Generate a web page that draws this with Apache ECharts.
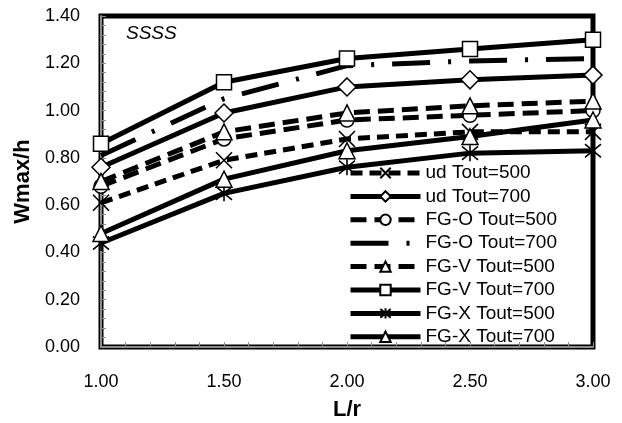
<!DOCTYPE html>
<html>
<head>
<meta charset="utf-8">
<script src="https://cdn.jsdelivr.net/npm/echarts@6/dist/echarts.min.js"></script>
<style>
  html, body { margin: 0; padding: 0; background: #fff; }
  #chart { width: 622px; height: 423px; }
</style>
</head>
<body>
<div id="chart"></div>
<script>
// L/r ratios on the horizontal axis
const ratios = [1.0, 1.5, 2.0, 2.5, 3.0];

// Wmax/h for each configuration and outlet temperature
const ud500  = [0.61, 0.79, 0.88, 0.91, 0.91];
const ud700  = [0.76, 0.99, 1.10, 1.13, 1.15];
const fgo500 = [0.68, 0.88, 0.96, 0.98, 1.00];
const fgo700 = [0.81, 1.05, 1.19, 1.21, 1.22];
const fgv500 = [0.70, 0.91, 0.99, 1.02, 1.04];
const fgv700 = [0.86, 1.12, 1.22, 1.26, 1.30];
const fgx500 = [0.44, 0.65, 0.76, 0.82, 0.83];
const fgx700 = [0.48, 0.71, 0.83, 0.89, 0.96];

const seriesNames = [
  'ud Tout=500', 'ud Tout=700', 'FG-O Tout=500', 'FG-O Tout=700',
  'FG-V Tout=500', 'FG-V Tout=700', 'FG-X Tout=500', 'FG-X Tout=700'
];

const FONT = '"Liberation Sans", Arial, sans-serif';
const X_MARK = 'path://M0,0L10,10M10,0L0,10';
const STAR_MARK = 'path://M0,0L10,10M10,0L0,10M5,-1L5,11';
const LINE_W = 5;

function pairs(values) {
  return ratios.map((r, i) => [r, values[i]]);
}

function makeSeries(name, values, dash, symbol, size, extra) {
  return Object.assign({
    name: name,
    type: 'line',
    data: pairs(values),
    symbol: symbol,
    symbolSize: size,
    showSymbol: symbol !== 'none',
    lineStyle: { color: '#000', width: LINE_W, type: dash },
    itemStyle: { color: '#fff', borderColor: '#000', borderWidth: 1.5 },
    emphasis: { disabled: true },
    animation: false
  }, extra || {});
}

const strokeOnly = { itemStyle: { color: 'none', borderColor: '#000', borderWidth: 1.6 } };

const series = [
  makeSeries(seriesNames[0], ud500, [12, 7], X_MARK, 16, strokeOnly),
  makeSeries(seriesNames[1], ud700, 'solid', 'diamond', 18),
  makeSeries(seriesNames[2], fgo500, [16, 8], 'circle', 14),
  makeSeries(seriesNames[3], fgo700, [38, 18, 3, 18], 'none', 0),
  makeSeries(seriesNames[4], fgv500, [16, 8], 'triangle', 16),
  makeSeries(seriesNames[5], fgv700, 'solid', 'rect', 15),
  makeSeries(seriesNames[6], fgx500, 'solid', STAR_MARK, 16, strokeOnly),
  makeSeries(seriesNames[7], fgx700, 'solid', 'triangle', 16)
];

// the dash-dot series has no marker, so its legend entry shows only the line
const legendData = seriesNames.map(n =>
  n === 'FG-O Tout=700' ? { name: n, itemStyle: { opacity: 0 } } : { name: n }
);

const chart = echarts.init(document.getElementById('chart'), null, { renderer: 'canvas' });

chart.setOption({
  backgroundColor: '#fff',
  animation: false,
  grid: {
    left: 101, right: 29, top: 16, bottom: 76,
    outerBoundsMode: 'none',
    show: true, borderColor: '#000', borderWidth: 5, backgroundColor: 'transparent'
  },
  xAxis: {
    type: 'value',
    min: 1, max: 3, interval: 0.5,
    name: 'L/r',
    nameLocation: 'middle',
    nameGap: 52,
    nameTextStyle: { fontFamily: FONT, fontSize: 22, fontWeight: 'bold', color: '#000' },
    axisLine: { show: true, lineStyle: { color: '#8c8c8c', width: 2 } },
    axisTick: { show: true, inside: true, length: 5, lineStyle: { color: '#8c8c8c', width: 1 } },
    minorTick: { show: true, splitNumber: 5, length: 5, lineStyle: { color: '#8c8c8c', width: 1 } },
    splitLine: { show: false },
    axisLabel: {
      fontFamily: FONT, fontSize: 18, color: '#000', margin: 26,
      formatter: v => v.toFixed(2)
    }
  },
  yAxis: {
    type: 'value',
    min: 0, max: 1.4, interval: 0.2,
    name: 'Wmax/h',
    nameLocation: 'middle',
    nameGap: 59,
    nameTextStyle: { fontFamily: FONT, fontSize: 22, fontWeight: 'bold', color: '#000' },
    axisLine: { show: true, lineStyle: { color: '#8c8c8c', width: 2 } },
    axisTick: { show: true, inside: true, length: 5, lineStyle: { color: '#8c8c8c', width: 1 } },
    minorTick: { show: true, splitNumber: 5, length: 5, lineStyle: { color: '#8c8c8c', width: 1 } },
    splitLine: { show: false },
    axisLabel: {
      fontFamily: FONT, fontSize: 18, color: '#000', margin: 21,
      formatter: v => v.toFixed(2)
    }
  },
  legend: {
    orient: 'vertical',
    left: 348,
    top: 163.5,
    padding: 0,
    itemWidth: 70,
    itemHeight: 13,
    itemGap: 4.4,
    data: legendData,
    lineStyle: { width: LINE_W },
    textStyle: { fontFamily: FONT, fontSize: 19, color: '#000' },
    selectedMode: false
  },
  graphic: [{
    type: 'text',
    left: 126,
    top: 24,
    style: { text: 'SSSS', font: 'italic 19px "Liberation Sans", Arial, sans-serif', fill: '#000' }
  }],
  series: series
});
</script>
</body>
</html>
